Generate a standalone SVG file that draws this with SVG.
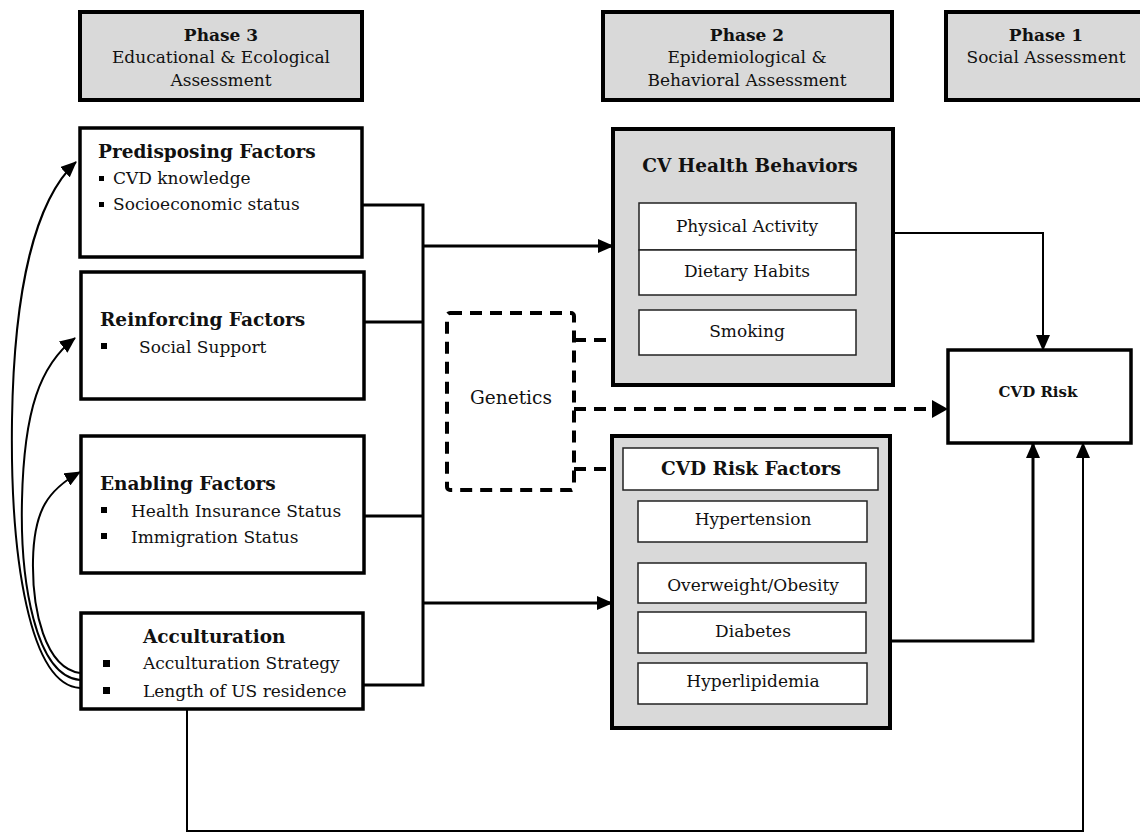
<svg xmlns="http://www.w3.org/2000/svg" width="1140" height="838" viewBox="0 0 1140 838">
<defs>
<marker id="ah" markerUnits="userSpaceOnUse" markerWidth="16" markerHeight="14" refX="15" refY="7" orient="auto">
<path d="M0,0 L16,7 L0,14 Z" fill="#000"/>
</marker>
<style>
.t{font-family:"DejaVu Serif","Liberation Serif",serif;fill:#111;}
.b{font-weight:bold;}
.phase{fill:#d9d9d9;stroke:#000;stroke-width:4;}
.box{fill:#fff;stroke:#000;stroke-width:3.5;}
.gbox{fill:#d9d9d9;stroke:#000;stroke-width:4;}
.inner{fill:#fff;stroke:#222;stroke-width:1.5;}
.ln{fill:none;stroke:#000;stroke-width:3;}
.thin{fill:none;stroke:#000;stroke-width:2;}
.dash{fill:none;stroke:#000;stroke-width:4;stroke-dasharray:12 8;}
</style>
</defs>
<rect width="1140" height="838" fill="#fff"/>

<g id="phase3">
<rect class="phase" x="80" y="12" width="282" height="88"/>
<text class="t b" x="221" y="41" font-size="17" text-anchor="middle">Phase 3</text>
<text class="t" x="221" y="63" font-size="17" text-anchor="middle">Educational &amp; Ecological</text>
<text class="t" x="221" y="86" font-size="17" text-anchor="middle">Assessment</text>
</g>
<g id="phase2">
<rect class="phase" x="603" y="12" width="289" height="88"/>
<text class="t b" x="747" y="41" font-size="17" text-anchor="middle">Phase 2</text>
<text class="t" x="747" y="63" font-size="17" text-anchor="middle">Epidemiological &amp;</text>
<text class="t" x="747" y="86" font-size="17" text-anchor="middle">Behavioral Assessment</text>
</g>
<g id="phase1">
<rect class="phase" x="946" y="12" width="210" height="88"/>
<text class="t b" x="1046" y="41" font-size="17" text-anchor="middle">Phase 1</text>
<text class="t" x="1046" y="63" font-size="17" text-anchor="middle">Social Assessment</text>
</g>

<g id="predisposing">
<rect class="box" x="80" y="128" width="282" height="129"/>
<text class="t b" x="98" y="158" font-size="18.5">Predisposing Factors</text>
<rect x="99" y="176" width="5" height="5" fill="#000"/>
<text class="t" x="113" y="184" font-size="17">CVD knowledge</text>
<rect x="99" y="202" width="5" height="5" fill="#000"/>
<text class="t" x="113" y="210" font-size="17">Socioeconomic status</text>
</g>
<g id="reinforcing">
<rect class="box" x="81" y="272" width="283" height="127"/>
<text class="t b" x="100" y="326" font-size="18.5">Reinforcing Factors</text>
<rect x="101" y="343" width="6" height="6" fill="#000"/>
<text class="t" x="139" y="353" font-size="17">Social Support</text>
</g>
<g id="enabling">
<rect class="box" x="81" y="436" width="283" height="137"/>
<text class="t b" x="100" y="490" font-size="18.5">Enabling  Factors</text>
<rect x="101" y="507" width="6" height="6" fill="#000"/>
<text class="t" x="131" y="517" font-size="17">Health Insurance Status</text>
<rect x="101" y="533" width="6" height="6" fill="#000"/>
<text class="t" x="131" y="543" font-size="17">Immigration Status</text>
</g>
<g id="acculturation">
<rect class="box" x="81" y="613" width="282" height="96"/>
<text class="t b" x="143" y="643" font-size="18.5">Acculturation</text>
<rect x="103" y="660" width="7" height="7" fill="#000"/>
<text class="t" x="143" y="669" font-size="17">Acculturation Strategy</text>
<rect x="103" y="687" width="7" height="7" fill="#000"/>
<text class="t" x="143" y="697" font-size="17">Length of US residence</text>
</g>

<g id="cvhealth">
<rect class="gbox" x="613" y="129" width="280" height="256"/>
<text class="t b" x="750" y="172" font-size="18.5" text-anchor="middle">CV Health Behaviors</text>
<rect class="inner" x="639" y="203" width="217" height="47"/>
<text class="t" x="747" y="232" font-size="17" text-anchor="middle">Physical Activity</text>
<rect class="inner" x="639" y="250" width="217" height="45"/>
<text class="t" x="747" y="277" font-size="17" text-anchor="middle">Dietary Habits</text>
<rect class="inner" x="639" y="310" width="217" height="45"/>
<text class="t" x="747" y="337" font-size="17" text-anchor="middle">Smoking</text>
</g>

<g id="riskfactors">
<rect class="gbox" x="612" y="436" width="278" height="292"/>
<rect class="inner" x="623" y="448" width="255" height="42"/>
<text class="t b" x="751" y="475" font-size="18.5" text-anchor="middle">CVD Risk Factors</text>
<rect class="inner" x="638" y="501" width="229" height="41"/>
<text class="t" x="753" y="525" font-size="17" text-anchor="middle">Hypertension</text>
<rect class="inner" x="638" y="563" width="228" height="40"/>
<text class="t" x="753" y="591" font-size="17" text-anchor="middle">Overweight/Obesity</text>
<rect class="inner" x="638" y="612" width="228" height="41"/>
<text class="t" x="753" y="637" font-size="17" text-anchor="middle">Diabetes</text>
<rect class="inner" x="638" y="663" width="229" height="41"/>
<text class="t" x="753" y="687" font-size="17" text-anchor="middle">Hyperlipidemia</text>
</g>

<g id="genetics">
<rect class="dash" x="447" y="313" width="127" height="177" rx="3"/>
<text class="t" x="511" y="404" font-size="18.5" text-anchor="middle">Genetics</text>
</g>

<g id="cvdrisk">
<rect class="box" x="948" y="350" width="183" height="93" stroke-width="4"/>
<text class="t b" x="1038" y="397" font-size="15" text-anchor="middle">CVD Risk</text>
</g>

<g id="connectors">
<path class="ln" d="M362,205 H423 M364,322 H423 M364,516 H423 M363,685 H423 M423,203.5 V686.5"/>
<path class="ln" d="M423,246 H613" marker-end="url(#ah)"/>
<path class="ln" d="M423,603 H612" marker-end="url(#ah)"/>
<path class="thin" d="M893,233 H1043 V350" marker-end="url(#ah)"/>
<path class="ln" d="M890,641 H1033 V443" marker-end="url(#ah)"/>
<path class="thin" d="M187,709 V831 H1083 V443" marker-end="url(#ah)"/>
<path class="dash" d="M574,340 H613 M574,469 H612"/>
<path class="dash" d="M574,409 H936"/>
<path d="M932,400 L948,409 L932,418 Z" fill="#000"/>
<path class="thin" stroke-width="2.5" d="M80,688 C30,685 10,560 12,420 C14,290 35,200 76,162" marker-end="url(#ah)"/>
<path class="thin" stroke-width="2.5" d="M80,680 C35,676 20,580 22,500 C24,410 40,365 75,338" marker-end="url(#ah)"/>
<path class="thin" stroke-width="2.5" d="M80,673 C45,668 32,610 33,560 C34,510 48,490 80,472" marker-end="url(#ah)"/>
</g>
</svg>
